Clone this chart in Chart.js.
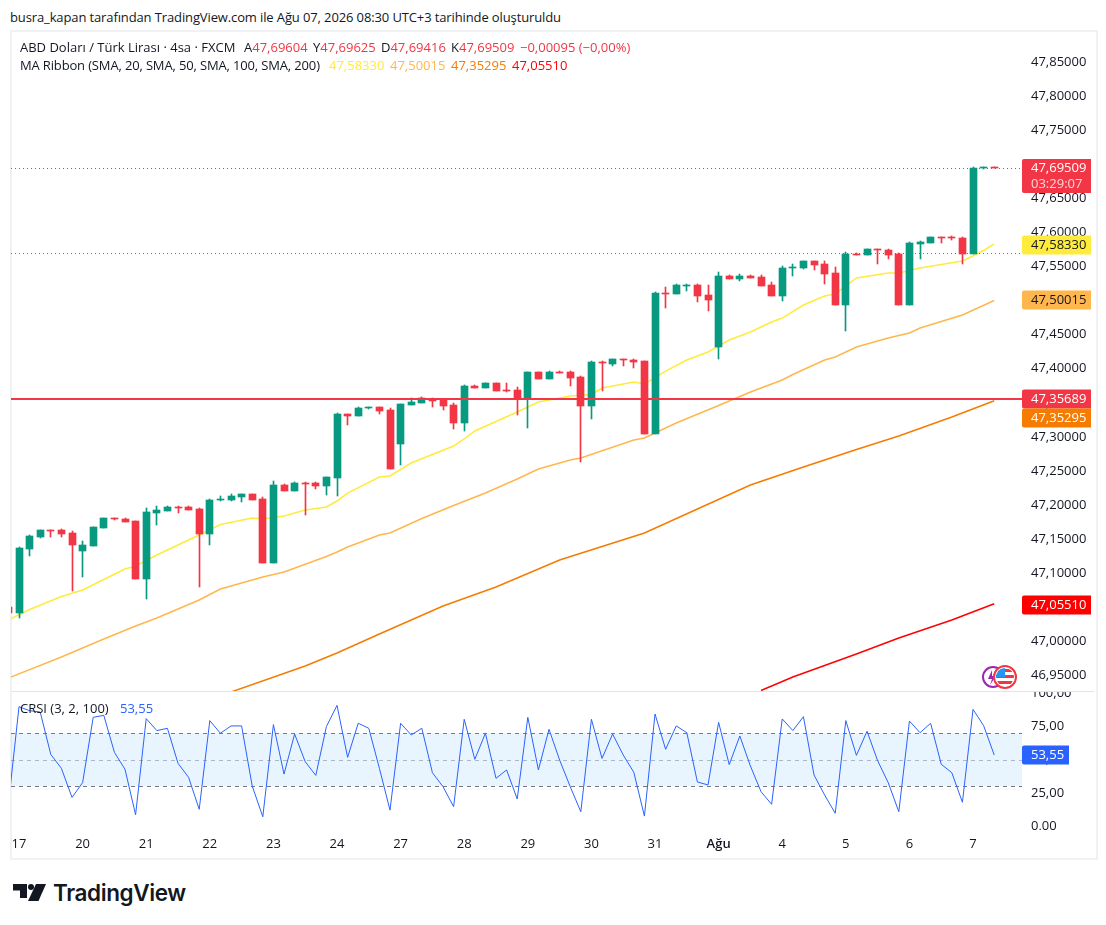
<!DOCTYPE html>
<html lang="tr"><head><meta charset="utf-8">
<script src="https://cdn.jsdelivr.net/npm/chart.js@4"></script>
<style>
html,body{margin:0;padding:0;background:#fff;width:1106px;height:925px;overflow:hidden}
body{font-family:"Open Sans",sans-serif;color:#131722;position:relative}
.t{position:absolute;white-space:pre;font-size:13px;line-height:16px}
#frame{position:absolute;left:10px;top:30px;width:1084px;height:826px;border:2px solid #f0f1f3}
#div{position:absolute;left:12px;top:691px;width:1082px;height:1px;background:#e0e3eb}
canvas{position:absolute}
#c1{left:11px;top:32px}
#c2{left:11px;top:692px}
#mask{position:absolute;left:1022px;top:830px;width:72px;height:28px;background:#fff}
</style></head><body>
<div id="frame"></div>
<canvas id="c1" width="1083" height="659"></canvas>
<canvas id="c2" width="1083" height="166"></canvas>
<div id="mask"></div><div id="div"></div>
<div class="t" style="left:10px;top:9px;letter-spacing:-.12px">busra_kapan tarafından TradingView.com ile Ağu 07, 2026 08:30 UTC+3 tarihinde oluşturuldu</div>
<div class="t" style="left:20px;top:39px">ABD Doları / Türk Lirası · 4sa · FXCM</div>
<div class="t" style="left:244px;top:39px">A<span style="color:#f23645">47,69604</span></div>
<div class="t" style="left:313px;top:39px">Y<span style="color:#f23645">47,69625</span></div>
<div class="t" style="left:381px;top:39px">D<span style="color:#f23645">47,69416</span></div>
<div class="t" style="left:451px;top:39px">K<span style="color:#f23645">47,69509</span></div>
<div class="t" style="left:520px;top:39px;color:#f23645">−0,00095 (−0,00%)</div>
<div class="t" style="left:20px;top:57px;letter-spacing:-.15px">MA Ribbon (SMA, 20, SMA, 50, SMA, 100, SMA, 200)</div>
<div class="t" style="left:329px;top:57px;color:#ffeb3b">47,58330</div>
<div class="t" style="left:390px;top:57px;color:#ffb74d">47,50015</div>
<div class="t" style="left:451px;top:57px;color:#f57c00">47,35295</div>
<div class="t" style="left:512px;top:57px;color:#ff0000">47,05510</div>
<div class="t" style="left:20px;top:700px">CRSI (3, 2, 100)</div>
<div class="t" style="left:120px;top:700px;color:#2962ff">53,55</div>
<svg style="position:absolute;left:980px;top:662px" width="40" height="30" viewBox="0 0 40 30">
<circle cx="13" cy="15" r="10" fill="#fff" stroke="#9c27b0" stroke-width="2"/>
<path d="M12 8l-4 9h4l-2 6 6-9h-4z" fill="#9c27b0"/>
<defs><clipPath id="fl"><circle cx="25" cy="15" r="9"/></clipPath></defs>
<circle cx="25" cy="15" r="11" fill="#fff" stroke="#f23645" stroke-width="2"/>
<g clip-path="url(#fl)"><rect x="16" y="6" width="18" height="18" fill="#fff"/>
<rect x="16" y="7" width="18" height="3" fill="#f23645"/><rect x="16" y="13" width="18" height="3" fill="#f23645"/><rect x="16" y="19" width="18" height="3" fill="#f23645"/>
<rect x="16" y="6" width="9" height="9" fill="#2196f3"/></g></svg>
<svg style="position:absolute;left:12px;top:882px" width="36" height="22" viewBox="0 0 36 22">
<path d="M1 2h14v14H8V8.5H1z" fill="#131722"/><circle cx="19" cy="5" r="3" fill="#131722"/>
<path d="M24 2h10l-7.5 17H16z" fill="#131722"/></svg>
<div class="t" style="left:53px;top:878px;font:600 22.5px/30px Inter,sans-serif;letter-spacing:-.4px;color:#131722">TradingView</div>
<script>
// All prices in TRY per USD, one candle every 4 hours; the first candle is the one cut off by the left edge.
const opens=[47.0503,47.0415,47.1354,47.1530,47.1633,47.1633,47.1589,47.1325,47.1398,47.1663,47.1809,47.1795,47.1765,47.0914,47.1883,47.1912,47.1971,47.1971,47.1941,47.1575,47.2073,47.2073,47.2117,47.2161,47.2088,47.1149,47.2294,47.2206,47.2323,47.2323,47.2279,47.2396,47.3335,47.3306,47.3423,47.3438,47.3394,47.2895,47.3467,47.3497,47.3541,47.3556,47.3467,47.3203,47.3746,47.3717,47.3790,47.3688,47.3688,47.3556,47.3952,47.3849,47.3952,47.3952,47.3878,47.3453,47.4098,47.4069,47.4142,47.4128,47.4113,47.3042,47.5111,47.5096,47.5213,47.5228,47.5081,47.4319,47.5360,47.5316,47.5360,47.5346,47.5228,47.5067,47.5478,47.5478,47.5580,47.5537,47.5405,47.4935,47.5683,47.5669,47.5757,47.5742,47.5683,47.4935,47.5830,47.5845,47.5933,47.5933,47.5918,47.5683,47.6945,47.69604];
const highs=[47.0503,47.1384,47.1560,47.1633,47.1633,47.1648,47.1619,47.1472,47.1677,47.1809,47.1809,47.1809,47.1765,47.1956,47.1985,47.1985,47.1985,47.1985,47.1956,47.2088,47.2132,47.2161,47.2161,47.2161,47.2117,47.2352,47.2308,47.2338,47.2338,47.2338,47.2411,47.3350,47.3335,47.3438,47.3438,47.3438,47.3423,47.3482,47.3570,47.3585,47.3570,47.3556,47.3497,47.3761,47.3761,47.3790,47.3790,47.3790,47.3732,47.3952,47.3952,47.3966,47.3966,47.3966,47.3893,47.4113,47.4113,47.4142,47.4142,47.4142,47.4113,47.5125,47.5199,47.5243,47.5243,47.5243,47.5228,47.5419,47.5375,47.5390,47.5375,47.5375,47.5272,47.5507,47.5537,47.5580,47.5580,47.5580,47.5492,47.5713,47.5698,47.5757,47.5757,47.5757,47.5698,47.5860,47.5875,47.5933,47.5933,47.5948,47.5933,47.6960,47.6960,47.69625];
const lows=[47.0415,47.0342,47.1252,47.1516,47.1530,47.1530,47.0738,47.0944,47.1398,47.1663,47.1780,47.1751,47.0914,47.0621,47.1707,47.1912,47.1883,47.1927,47.0797,47.1413,47.2059,47.2059,47.2044,47.2073,47.1149,47.1149,47.2206,47.2206,47.1853,47.2235,47.2147,47.2132,47.3174,47.3306,47.3409,47.3335,47.2528,47.2587,47.3467,47.3497,47.3438,47.3394,47.3115,47.3086,47.3717,47.3717,47.3673,47.3658,47.3321,47.3130,47.3849,47.3849,47.3937,47.3746,47.2631,47.3262,47.3673,47.4040,47.4040,47.4010,47.3042,47.3042,47.4891,47.5096,47.5140,47.4979,47.4847,47.4142,47.5316,47.5287,47.5331,47.5213,47.5067,47.4994,47.5360,47.5463,47.5449,47.5243,47.4935,47.4553,47.5669,47.5669,47.5537,47.5610,47.4935,47.4935,47.5610,47.5845,47.5845,47.5889,47.5537,47.5683,47.6931,47.69416];
const closes=[47.0415,47.1369,47.1545,47.1633,47.1619,47.1575,47.1413,47.1413,47.1677,47.1809,47.1795,47.1751,47.0914,47.1897,47.1927,47.1971,47.1956,47.1927,47.1575,47.2073,47.2088,47.2132,47.2161,47.2073,47.1149,47.2294,47.2206,47.2323,47.2308,47.2279,47.2411,47.3335,47.3306,47.3423,47.3438,47.3379,47.2528,47.3482,47.3511,47.3570,47.3526,47.3453,47.3203,47.3746,47.3717,47.3790,47.3673,47.3673,47.3556,47.3952,47.3849,47.3952,47.3937,47.3864,47.3453,47.4098,47.4084,47.4142,47.4128,47.4098,47.3042,47.5111,47.5096,47.5228,47.5228,47.5067,47.5008,47.5360,47.5316,47.5360,47.5331,47.5213,47.5067,47.5478,47.5492,47.5580,47.5522,47.5390,47.4935,47.5683,47.5669,47.5757,47.5742,47.5669,47.4935,47.5845,47.5860,47.5933,47.5918,47.5918,47.5683,47.6945,47.6960,47.69509];

// Moving averages: vertices (candle number, value); candle 0 is the "17" tick.
const sma20Bars=[-1,1,4,6,10,11,13,15,17,19,22,23,25,27,29,30,31,34,35,37,41,42,43,47,49,52,54,55,58,59,61,63,65,67,69,71,72,74,76,77,79,82,83,85,89,90,91,92];
const sma20Vals=[47.0313,47.0467,47.0657,47.0753,47.1061,47.1105,47.1266,47.1413,47.1560,47.1714,47.1809,47.1795,47.1839,47.1927,47.1971,47.2059,47.2176,47.2411,47.2426,47.2616,47.2866,47.2969,47.3086,47.3365,47.3511,47.3600,47.3622,47.3717,47.3805,47.3776,47.3966,47.4128,47.4245,47.4421,47.4539,47.4685,47.4744,47.4935,47.5067,47.5096,47.5331,47.5404,47.5404,47.5478,47.5580,47.5654,47.5735,47.5833];
const sma50Bars=[-1,4,8,11,13,17,19,23,25,29,30,31,34,35,38,41,44,47,49,52,53,58,59,60,62,66,67,68,69,72,73,76,77,79,82,84,85,89,92];
const sma50Vals=[46.9461,46.9770,47.0034,47.0225,47.0342,47.0606,47.0767,47.0944,47.1017,47.1244,47.1310,47.1384,47.1560,47.1589,47.1802,47.1993,47.2176,47.2382,47.2528,47.2660,47.2690,47.2954,47.2983,47.3057,47.3203,47.3460,47.3526,47.3592,47.3658,47.3834,47.3915,47.4128,47.4172,47.4319,47.4451,47.4524,47.4597,47.4788,47.50015];
const sma100Bars=[20,27,30,34,40,45,51,59,64,69,74,79,83,88,92];
const sma100Vals=[46.9256,46.9638,46.9828,47.0107,47.0518,47.0797,47.1193,47.1589,47.1941,47.2294,47.2558,47.2814,47.3013,47.3291,47.35295];
const sma200Bars=[70,73,79,83,88,92];
const sma200Vals=[46.9278,46.9476,46.9814,47.0048,47.0313,47.0551];

// CRSI(3,2,100), one value per candle, same order as the price arrays.
const crsi=[16.5,90,87,86,54,43.5,21.6,32.7,82,83.5,55.6,42.8,8.5,81,72,73.7,47.3,36.7,12.6,79.5,70,75.5,75.5,30.2,7,76.5,39.2,69.4,48.5,38.2,75,91,51.8,77.5,73.7,43.5,12,77.5,68.7,73.7,40.2,29.7,14.6,80.5,50.3,70,36,42.3,20.4,82,42.3,73,49.8,29.7,10.8,80.5,51,69.4,53.6,40.5,7.5,84.5,57.9,75.5,70.4,33.2,31,78.2,46.3,67.9,45.3,25.9,16.4,80.8,72,82.5,38.5,23.4,9.6,79.5,53.3,71.5,49.3,32.7,10.8,79.2,70.4,77.5,46.6,40.2,17.9,88,75.7,53.55];
const crsiBand=[30,50,70];

// Time axis
const dayTickBars=[0,6,12,18,24,30,36,42,48,54,60,66,72,78,84,90];
const dayTickLabels=['17','20','21','22','23','24','27','28','29','30','31','Ağu','4','5','6','7'];

// Price levels
const lastPrice=47.69509, prevLevel=47.5695, resistance=47.35689;
const ribbonColors=['#ffeb3b','#ffb74d','#f57c00','#ff0000'];
const ribbonLast=[47.5833,47.50015,47.35295,47.0551];
const hiddenPriceTicks=['47,70000'];

const UP='#089981', DOWN='#f23645', FONT='"Open Sans",sans-serif', INK='#131722';
const xMin=-0.755, xMax=94.62;
const pts=(b,v)=>b.map((x,i)=>({x,y:v[i]}));
const barNo=i=>i-1;
const comma=(v,d)=>v.toFixed(d).replace('.',',');
const wick=opens.map((o,i)=>({x:barNo(i),y:[lows[i],highs[i]]}));
const body=opens.map((o,i)=>({x:barNo(i),y:[o,closes[i]]}));
const candleColors=opens.map((o,i)=>closes[i]>=o?UP:DOWN);
const hline=(y)=>[{x:xMin,y},{x:xMax,y}];
const ma=(b,v,c)=>({type:'line',data:pts(b,v),borderColor:c,borderWidth:1.5,pointRadius:0,tension:0,order:5});
const level=(y,c,w,dash,order,extra)=>Object.assign({type:'line',data:hline(y),borderColor:c,borderWidth:w,borderDash:dash,pointRadius:0,order,crisp:true},extra||{});
const noPad=s=>{s.paddingTop=s.paddingBottom=s.paddingLeft=s.paddingRight=0;};

// Snap candles and level lines to the pixel grid so they stay crisp.
const snap={id:'snap',beforeDatasetsDraw(ch){
  ch.data.datasets.forEach((d,i)=>{
    const els=ch.getDatasetMeta(i).data;
    if(d.type==='bar') els.forEach(el=>{
      el.x=Math.round(el.x-.5)+.5; el.y=Math.round(el.y); el.base=Math.round(el.base);
      if(el.y===el.base)el.y=el.base-1;
    });
    else if(d.crisp) els.forEach(el=>{
      el.y=d.borderWidth%2?Math.round(el.y)+.5:Math.ceil(el.y);
    });
  });
}};
function tag(ctx,x,w,top,h,bg,lines){
  ctx.fillStyle=bg; ctx.beginPath(); ctx.roundRect(x,top,w,h,[2,0,0,2]); ctx.fill();
  ctx.textAlign='left'; ctx.textBaseline='middle'; ctx.font='13px '+FONT;
  lines.forEach(l=>{ctx.fillStyle=l.c; ctx.fillText(l.t,x+9,top+l.dy);});
}
const priceTags={id:'tags',afterDraw(ch){
  const c=ch.ctx,y=ch.scales.y,x=ch.chartArea.right,w=69,h=19;
  const mid=(v,n=0)=>Math.round(y.getPixelForValue(v)+n);
  const t=mid(lastPrice)-9;
  tag(c,x,w,t,34,DOWN,[{t:comma(lastPrice,5),c:'#fff',dy:9},{t:'03:29:07',c:'rgba(255,255,255,.8)',dy:25}]);
  [[ribbonLast[0],ribbonColors[0],INK,1],[ribbonLast[1],ribbonColors[1],INK,0],[resistance,DOWN,'#fff',1],[ribbonLast[2],ribbonColors[2],'#fff',17],[ribbonLast[3],ribbonColors[3],'#fff',1]]
   .forEach(([v,bg,fg,n])=>{const m=mid(v,n);tag(c,x,w,m-9.5,h,bg,[{t:comma(v,5),c:fg,dy:9.5}]);});
}};
new Chart(document.getElementById('c1'),{
  data:{datasets:[
    level(resistance,DOWN,2,[],0),
    level(lastPrice,DOWN,1,[1,3],4),
    level(prevLevel,DOWN,1,[1,3],4),
    {type:'bar',data:body,backgroundColor:candleColors,barThickness:7,grouped:false,order:1},
    {type:'bar',data:wick,backgroundColor:candleColors,barThickness:1,grouped:false,order:2},
    ma(sma20Bars,sma20Vals,ribbonColors[0]),ma(sma50Bars,sma50Vals,ribbonColors[1]),
    ma(sma100Bars,sma100Vals,ribbonColors[2]),ma(sma200Bars,sma200Vals,ribbonColors[3])
  ]},
  plugins:[snap,priceTags],
  options:{responsive:false,animation:false,devicePixelRatio:1,events:[],
    layout:{padding:0},
    plugins:{legend:{display:false},tooltip:{enabled:false}},
    scales:{
      x:{type:'linear',display:false,min:xMin,max:xMax,offset:false},
      y:{type:'linear',position:'right',min:46.9271,max:47.8941,
        grid:{display:false,drawTicks:false},border:{display:false},
        afterFit(s){s.width=72;noPad(s);},
        ticks:{stepSize:.05,includeBounds:false,padding:9,color:INK,autoSkip:false,
          callback:v=>{const l=comma(v,5);return hiddenPriceTicks.includes(l)?'':l;},
          font:c=>({family:FONT,size:13,weight:(c.tick&&Math.round(c.tick.value*1000)%100===0)?'500':'400'})}
      }
    }
  }
});
const crsiTag={id:'crsiTag',afterDraw(ch){
  const c=ch.ctx,y=ch.scales.y,x=ch.chartArea.right;
  const v=crsi[crsi.length-1],m=Math.round(y.getPixelForValue(v));
  tag(c,x,47,m-9.5,19,'#2962ff',[{t:comma(v,2),c:'#fff',dy:9.5}]);
}};
new Chart(document.getElementById('c2'),{
  data:{datasets:[
    level(crsiBand[2],'#787b86',1,[4,4],3,{fill:{target:{value:crsiBand[0]},above:'rgba(33,150,243,.1)'}}),
    level(crsiBand[1],'rgba(120,123,134,.5)',1,[4,4],3),
    level(crsiBand[0],'#787b86',1,[4,4],3),
    {type:'line',data:crsi.map((v,i)=>({x:barNo(i),y:v})),borderColor:'#2962ff',borderWidth:1,pointRadius:0,tension:0,order:1}
  ]},
  plugins:[snap,crsiTag],
  options:{responsive:false,animation:false,devicePixelRatio:1,events:[],
    layout:{padding:0},
    plugins:{legend:{display:false},tooltip:{enabled:false}},
    scales:{
      x:{type:'linear',position:'bottom',min:xMin,max:xMax,offset:false,
        grid:{display:false,drawTicks:false},border:{display:false},
        afterFit(s){s.height=28;noPad(s);},
        afterBuildTicks(s){s.ticks=dayTickBars.map(value=>({value}));},
        ticks:{autoSkip:false,maxRotation:0,padding:6,color:INK,
          callback:v=>dayTickLabels[dayTickBars.indexOf(v)],
          font:c=>({family:FONT,size:13,weight:(c.tick&&dayTickLabels[dayTickBars.indexOf(c.tick.value)]==='Ağu')?'600':'400'})}
      },
      y:{type:'linear',position:'right',min:-3,max:101.1,
        grid:{display:false,drawTicks:false},border:{display:false},
        afterFit(s){s.width=72;noPad(s);},
        afterBuildTicks(s){s.ticks=[0,25,50,75,100].map(value=>({value}));},
        ticks:{padding:9,color:INK,autoSkip:false,callback:v=>comma(v,2),font:{family:FONT,size:13}}
      }
    }
  }
});
</script>
</body></html>
